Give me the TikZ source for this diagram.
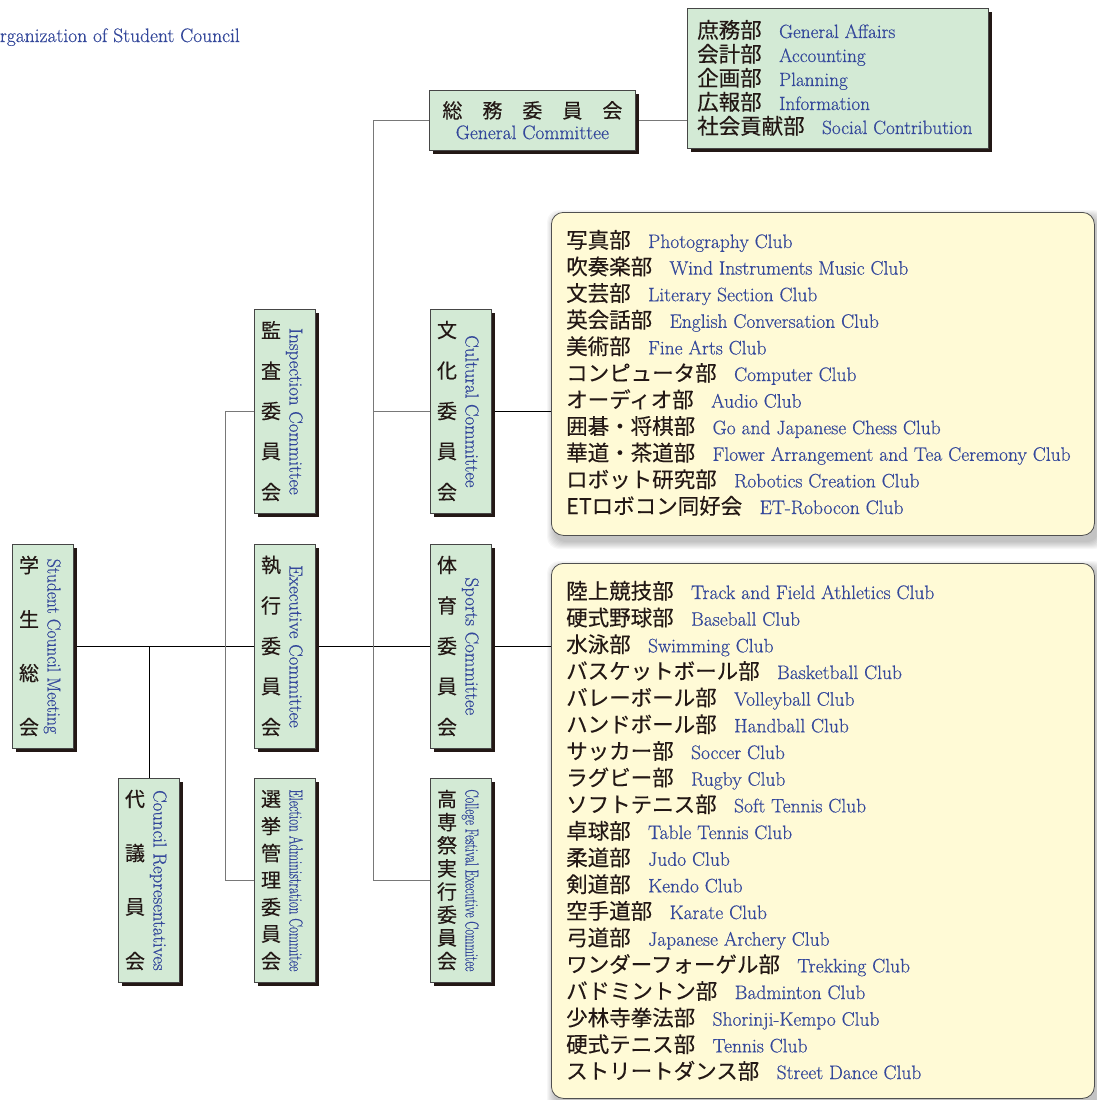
\documentclass[tikz,border=0pt]{standalone}
\usepackage{fontspec}
\usepackage{graphicx}
\newfontfamily\jp[FakeBold=0.3]{Noto Sans CJK JP}
\newfontfamily\enf[FakeBold=0.5]{Latin Modern Roman}
\usetikzlibrary{calc,shadows}
\definecolor{gfill}{RGB}{211,234,213}
\definecolor{gline}{RGB}{70,70,70}
\definecolor{gshadow}{RGB}{35,24,21}
\definecolor{yfill}{RGB}{255,250,214}
\definecolor{yline}{RGB}{80,80,80}
\definecolor{blu}{RGB}{52,72,155}
\definecolor{ink}{RGB}{35,24,21}
\definecolor{wire}{RGB}{120,120,120}
\pgfdeclarelayer{bg}
\pgfsetlayers{bg,main}
\tikzset{
 gbox/.style={draw=gline, fill=gfill, line width=0.8pt, inner sep=0pt, drop shadow={shadow xshift=4pt, shadow yshift=-4pt, fill=gshadow, opacity=1}},
 ybox/.style={draw=yline, fill=yfill, line width=0.8pt, rounded corners=12pt, inner sep=0pt},
 jpl/.style={font=\jp\fontsize{21.5pt}{24pt}\selectfont, text=ink, inner sep=0pt},
 jpv/.style={font=\jp\fontsize{20pt}{22pt}\selectfont, text=ink, inner sep=0pt},
 enl/.style={font=\enf\fontsize{19.5pt}{22pt}\selectfont, text=blu, inner sep=0pt},
 ens/.style={font=\enf\fontsize{19.2pt}{22pt}\selectfont, text=blu, inner sep=0pt},
 env/.style={font=\enf\fontsize{18.8pt}{21pt}\selectfont, text=blu, inner sep=0pt, rotate=-90, anchor=base},
 blk/.style={draw=black, line width=0.8pt},
 gry/.style={draw=wire, line width=0.8pt},
}
\newcommand\tate[6]{%
 \node[gbox, minimum width=61pt, minimum height=204pt, anchor=north west] (#1) at (#2,#3) {};
 \foreach \ch [count=\i from 0] in {#5}{\node[jpv] (#1-\i) at ($(#1.north west)+(17,{21+\i*162/(#4-1)})$) {\ch};}
 \node[env] (#1-en) at ($(#1.west)+(35.5,0)$) {#6};
}
\newcommand\softshadow[4]{\foreach \e in {1,...,8}{\fill[black, opacity=0.03, rounded corners=12pt] ({#1+4-\e},{#2+6-\e}) rectangle ({#3+4+\e},{#4+6+\e});}}
\begin{document}
\begin{tikzpicture}[x=1pt,y=-1pt]
\useasboundingbox (0,0) rectangle (1096,1100);
\begin{pgfonlayer}{bg}
\fill[white] (0,0) rectangle (1096,1100);
\end{pgfonlayer}

\node[font=\enf\fontsize{19.5pt}{22pt}\selectfont, text=blu, inner sep=0pt, anchor=base east] (title) at (240,42) {Organization of Student Council};

% soft shadows of the club boxes
\softshadow{551}{212}{1094}{535}
\softshadow{551}{563}{1094}{1098}

% green boxes
\node[gbox, minimum width=206pt, minimum height=60pt, anchor=north west] (somu) at (429,90) {};
\node[jpv] (somu-jp) at ($(somu.center)+(0,-10)$) {総\hspace{20pt}務\hspace{20pt}委\hspace{20pt}員\hspace{20pt}会};
\node[enl] (somu-en) at ($(somu.center)+(0,12)$) {General Committee};

\node[gbox, minimum width=301pt, minimum height=140pt, anchor=north west] (ga) at (687,8) {};
\foreach \j/\e [count=\i from 0] in {庶務部/General Affairs, 会計部/Accounting, 企画部/Planning, 広報部/Information, 社会貢献部/Social Contribution}{
 \node[jpl, anchor=base west] (gj\i) at (697,{30+\i*24+8}) {\j};
 \node[ens, anchor=base west] (ge\i) at ($(gj\i.base east)+(17,0)$) {\e};
}

\tate{gakusei}{12}{544}{4}{学,生,総,会}{\resizebox{175pt}{\height}{Student Council Meeting}}
\tate{daigi}{118}{778}{4}{代,議,員,会}{Council Representatives}
\tate{kansa}{254}{309}{5}{監,査,委,員,会}{Inspection Committee}
\tate{shikko}{254}{544}{5}{執,行,委,員,会}{Executive Committee}
\tate{senkyo}{254}{778}{7}{選,挙,管,理,委,員,会}{\resizebox{182pt}{\height}{Election Administration Commitee}}
\tate{bunka}{430}{309}{5}{文,化,委,員,会}{Cultural Committee}
\tate{taiiku}{430}{544}{5}{体,育,委,員,会}{Sports Committee}
\tate{kosen}{430}{778}{8}{高,専,祭,実,行,委,員,会}{\resizebox{182pt}{\height}{College Festival Executive Commitee}}

% yellow club boxes
\node[ybox, minimum width=543pt, minimum height=323pt, anchor=north west] (cult) at (551,212) {};
\node[ybox, minimum width=543pt, minimum height=535pt, anchor=north west] (sports) at (551,563) {};

\foreach \j/\e [count=\i from 0] in {写真部/Photography Club, 吹奏楽部/Wind Instruments Music Club, 文芸部/Literary Section Club, 英会話部/English Conversation Club, 美術部/Fine Arts Club, コンピュータ部/Computer Club, オーディオ部/Audio Club, 囲碁・将棋部/Go and Japanese Chess Club, 華道・茶道部/Flower Arrangement and Tea Ceremony Club, ロボット研究部/Robotics Creation Club, ETロボコン同好会/ET-Robocon Club}{
 \node[jpl, anchor=base west] (cj\i) at (566,{240+\i*26.6+8}) {\j};
 \node[enl, anchor=base west] (ce\i) at ($(cj\i.base east)+(17,0)$) {\e};
}
\foreach \j/\e [count=\i from 0] in {陸上競技部/Track and Field Athletics Club, 硬式野球部/Baseball Club, 水泳部/Swimming Club, バスケットボール部/Basketball Club, バレーボール部/Volleyball Club, ハンドボール部/Handball Club, サッカー部/Soccer Club, ラグビー部/Rugby Club, ソフトテニス部/Soft Tennis Club, 卓球部/Table Tennis Club, 柔道部/Judo Club, 剣道部/Kendo Club, 空手道部/Karate Club, 弓道部/Japanese Archery Club, ワンダーフォーゲル部/Trekking Club, バドミントン部/Badminton Club, 少林寺拳法部/Shorinji-Kempo Club, 硬式テニス部/Tennis Club, ストリートダンス部/Street Dance Club}{
 \node[jpl, anchor=base west] (sj\i) at (566,{591+\i*26.667+8}) {\j};
 \node[enl, anchor=base west] (se\i) at ($(sj\i.base east)+(17,0)$) {\e};
}

% connectors
\coordinate (busA) at (225,0);
\coordinate (busB) at (373,0);
\begin{pgfonlayer}{bg}
\draw[blk] (gakusei.east) -- (shikko.west);
\draw[blk] (shikko.east) -- (taiiku.west);
\draw[blk] (taiiku.east) -- (taiiku.east -| sports.west);
\draw[blk] (daigi.north) -- (daigi.north |- gakusei.east);
\draw[gry] (kansa.west) -- (kansa.west -| busA) -- (senkyo.west -| busA) -- (senkyo.west);
\draw[gry] (somu.west) -- (somu.west -| busB) -- (kosen.west -| busB) -- (kosen.west);
\draw[gry] (bunka.west -| busB) -- (bunka.west);
\draw[blk] (bunka.east) -- (bunka.east -| cult.west);
\draw[gry] (somu.east) -- (somu.east -| ga.west);
\end{pgfonlayer}
\end{tikzpicture}
\end{document}
